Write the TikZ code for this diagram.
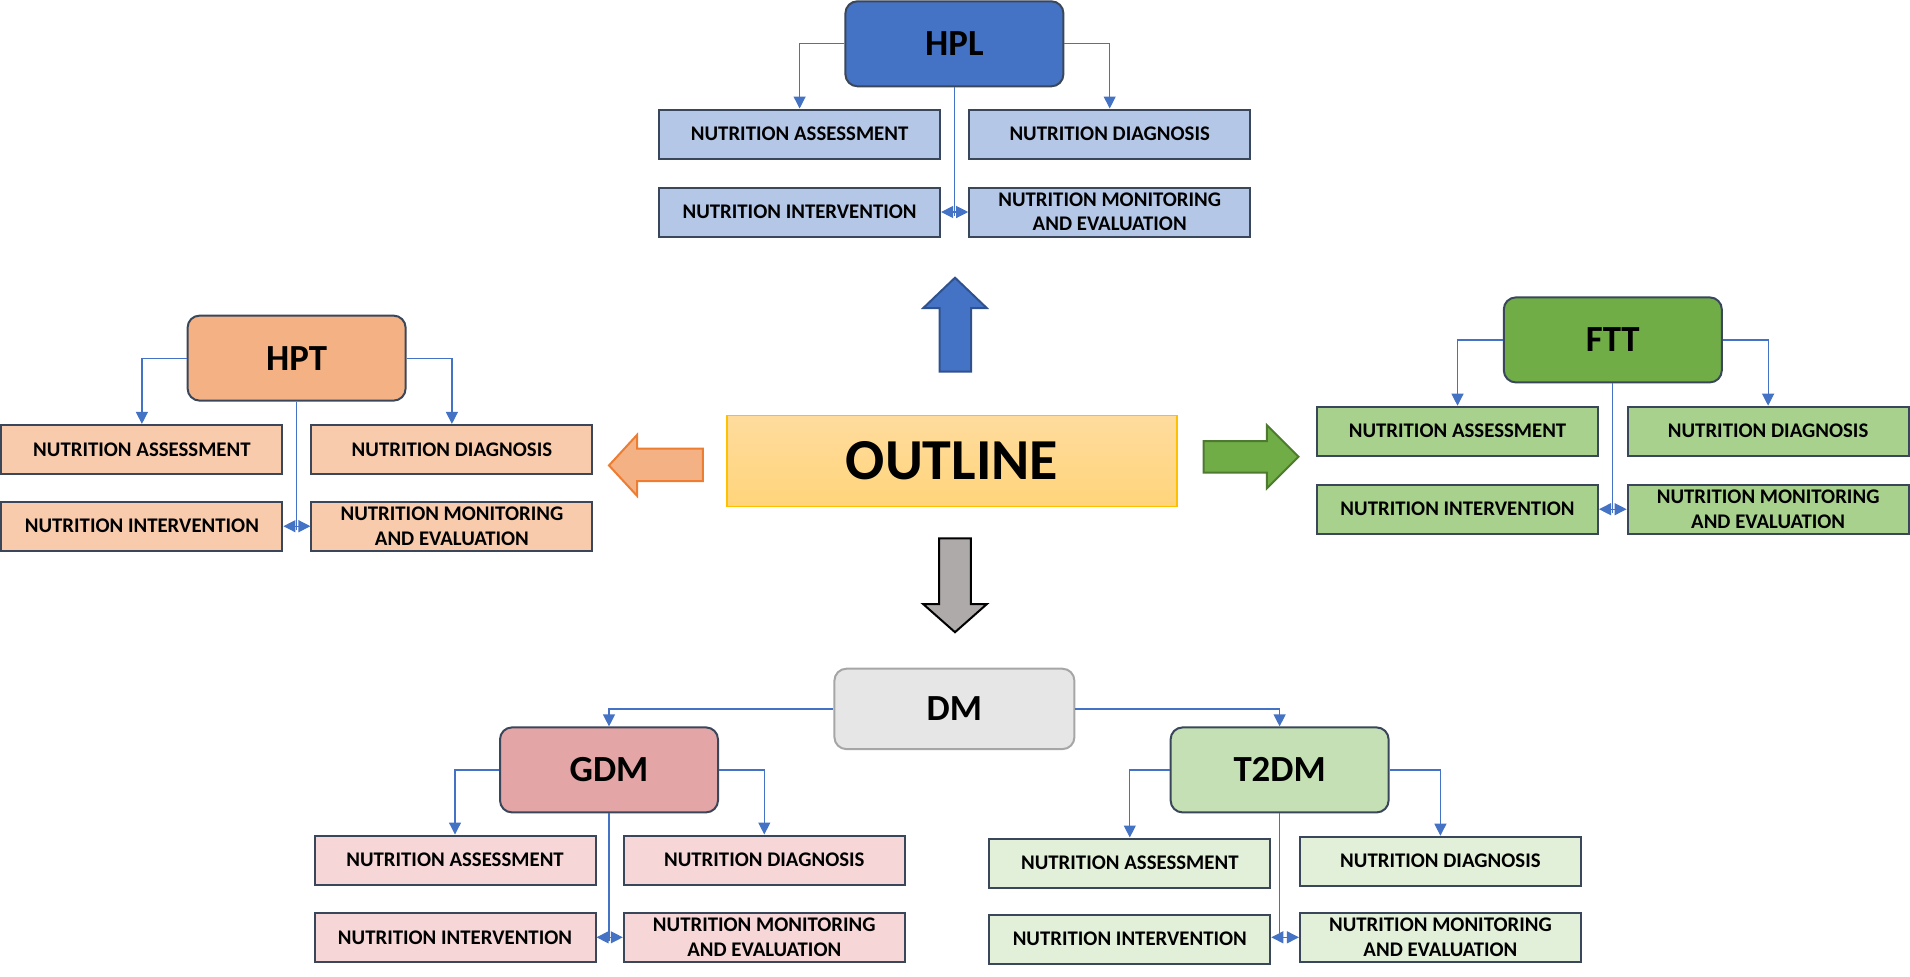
\documentclass[tikz,border=0pt]{standalone}
\usepackage{fontspec}
\setmainfont{Carlito}
\usetikzlibrary{arrows.meta}
\definecolor{bordc}{HTML}{3A475B}
\definecolor{connc}{HTML}{4472C4}
\definecolor{hplF}{HTML}{4472C4}
\definecolor{hplS}{HTML}{B4C7E7}
\definecolor{hptF}{HTML}{F4B183}
\definecolor{hptS}{HTML}{F8CBAD}
\definecolor{fttF}{HTML}{70AD47}
\definecolor{fttS}{HTML}{A9D18E}
\definecolor{gdmF}{HTML}{E3A5A5}
\definecolor{gdmS}{HTML}{F6D6D7}
\definecolor{t2dmF}{HTML}{C5E0B4}
\definecolor{t2dmS}{HTML}{E2F0D9}
\definecolor{dmF}{HTML}{E6E6E6}
\definecolor{dmB}{HTML}{A6A6A6}
\definecolor{outB}{HTML}{FFC000}
\definecolor{outT}{HTML}{FFDC9E}
\definecolor{outBot}{HTML}{FFD47A}
\definecolor{orB}{HTML}{ED7D31}
\definecolor{grB}{HTML}{4E7A30}
\definecolor{blB}{HTML}{2F528F}
\definecolor{gyF}{HTML}{AEAAAA}
\tikzset{
  headbox/.style={draw=bordc, line width=1pt, rounded corners=6pt, minimum width=109pt, minimum height=42.5pt, inner sep=0pt, font=\fontsize{18.4}{20}\selectfont\bfseries},
  subbox/.style={draw=bordc, line width=1pt, minimum width=140.5pt, minimum height=24.5pt, inner sep=0pt, align=center, font=\fontsize{10.4}{12.2}\selectfont\bfseries},
  conn/.style={draw=connc, line width=0.6pt, -{Triangle[length=6pt,width=6pt]}},
  connplain/.style={draw=connc, line width=0.6pt},
  blockarrow/.style={line width=1pt, line join=miter}
}
\begin{document}
\begin{tikzpicture}[x=0.5pt,y=-0.5pt]
\useasboundingbox (0,0) rectangle (1910,976);
% ---------- OUTLINE ----------
\node[draw=outB, line width=0.8pt, top color=outT, bottom color=outBot, minimum width=224.75pt, minimum height=45.6pt, inner sep=0pt, font=\fontsize{29}{32}\selectfont\bfseries] (outline) at (952,461) {OUTLINE};
% ---------- block arrows ----------
\draw[blockarrow, fill=hplF, draw=blB] (955,277.7) -- (986.7,308) -- (971,308) -- (971,371.5) -- (939.5,371.5) -- (939.5,308) -- (923.3,308) -- cycle;
\draw[blockarrow, fill=gyF, draw=black] (939.2,538.4) -- (970.8,538.4) -- (970.8,604.2) -- (986.7,604.2) -- (955,632.2) -- (923.3,604.2) -- (939.2,604.2) -- cycle;
\draw[blockarrow, fill=hptF, draw=orB] (609,465.4) -- (637,434.9) -- (637,448.6) -- (702.8,448.6) -- (702.8,481.2) -- (637,481.2) -- (637,495.8) -- cycle;
\draw[blockarrow, fill=fttF, draw=grB] (1298.5,456.7) -- (1266.8,425) -- (1266.8,441) -- (1203.5,441) -- (1203.5,472.6) -- (1266.8,472.6) -- (1266.8,488.4) -- cycle;
% ---------- HPL ----------
\node[headbox, fill=hplF] (hpl) at (954.4,43.8) {HPL};
\node[subbox, fill=hplS] (hplA) at (799.6,134) {NUTRITION ASSESSMENT};
\node[subbox, fill=hplS] (hplD) at (1109.7,134) {NUTRITION DIAGNOSIS};
\node[subbox, fill=hplS] (hplI) at (799.6,212) {NUTRITION INTERVENTION};
\node[subbox, fill=hplS] (hplM) at (1109.7,212) {NUTRITION MONITORING\\AND EVALUATION};
\draw[conn] (hpl.west) -| (hplA.north);
\draw[conn] (hpl.east) -| (hplD.north);
\coordinate (hplc) at (hpl.south |- hplI.east);
\draw[connplain] (hpl.south) -- ([yshift=-2pt]hplc);
\draw[conn] (hplc) -- (hplI.east);
\draw[conn] (hplc) -- (hplM.west);
% ---------- HPT ----------
\node[headbox, fill=hptF] (hpt) at (296.6,358.1) {HPT};
\node[subbox, fill=hptS] (hptA) at (141.9,449.4) {NUTRITION ASSESSMENT};
\node[subbox, fill=hptS] (hptD) at (451.9,449.4) {NUTRITION DIAGNOSIS};
\node[subbox, fill=hptS] (hptI) at (141.9,526.2) {NUTRITION INTERVENTION};
\node[subbox, fill=hptS] (hptM) at (451.9,526.2) {NUTRITION MONITORING\\AND EVALUATION};
\draw[conn] (hpt.west) -| (hptA.north);
\draw[conn] (hpt.east) -| (hptD.north);
\coordinate (hptc) at (hpt.south |- hptI.east);
\draw[connplain] (hpt.south) -- ([yshift=-2pt]hptc);
\draw[conn] (hptc) -- (hptI.east);
\draw[conn] (hptc) -- (hptM.west);
% ---------- FTT ----------
\node[headbox, fill=fttF] (ftt) at (1612.8,339.9) {FTT};
\node[subbox, fill=fttS] (fttA) at (1457.5,431.2) {NUTRITION ASSESSMENT};
\node[subbox, fill=fttS] (fttD) at (1768.1,431.2) {NUTRITION DIAGNOSIS};
\node[subbox, fill=fttS] (fttI) at (1457.5,509.2) {NUTRITION INTERVENTION};
\node[subbox, fill=fttS] (fttM) at (1768.1,509.2) {NUTRITION MONITORING\\AND EVALUATION};
\draw[conn] (ftt.west) -| (fttA.north);
\draw[conn] (ftt.east) -| (fttD.north);
\coordinate (fttc) at (ftt.south |- fttI.east);
\draw[connplain] (ftt.south) -- ([yshift=-2pt]fttc);
\draw[conn] (fttc) -- (fttI.east);
\draw[conn] (fttc) -- (fttM.west);
% ---------- DM ----------
\node[draw=dmB, line width=1pt, fill=dmF, rounded corners=6pt, minimum width=120pt, minimum height=40.2pt, inner sep=0pt, font=\fontsize{18.4}{20}\selectfont\bfseries] (dm) at (954.4,708.9) {DM};
% ---------- GDM ----------
\node[headbox, fill=gdmF] (gdm) at (609,769.9) {GDM};
\node[subbox, fill=gdmS] (gdmA) at (455,860) {NUTRITION ASSESSMENT};
\node[subbox, fill=gdmS] (gdmD) at (764.3,860) {NUTRITION DIAGNOSIS};
\node[subbox, fill=gdmS] (gdmI) at (455,937.3) {NUTRITION INTERVENTION};
\node[subbox, fill=gdmS] (gdmM) at (764.3,937.3) {NUTRITION MONITORING\\AND EVALUATION};
\draw[conn] (gdm.west) -| (gdmA.north);
\draw[conn] (gdm.east) -| (gdmD.north);
\coordinate (gdmc) at (gdm.south |- gdmI.east);
\draw[connplain] (gdm.south) -- ([yshift=-2pt]gdmc);
\draw[conn] (gdmc) -- (gdmI.east);
\draw[conn] (gdmc) -- (gdmM.west);
% ---------- T2DM ----------
\node[headbox, fill=t2dmF] (t2dm) at (1279.6,769.9) {T2DM};
\node[subbox, fill=t2dmS] (t2dmA) at (1129.8,863) {NUTRITION ASSESSMENT};
\node[subbox, fill=t2dmS] (t2dmD) at (1440.4,861.2) {NUTRITION DIAGNOSIS};
\node[subbox, fill=t2dmS] (t2dmI) at (1129.8,939.2) {NUTRITION INTERVENTION};
\node[subbox, fill=t2dmS] (t2dmM) at (1440.4,937.3) {NUTRITION MONITORING\\AND EVALUATION};
\draw[conn] (t2dm.west) -| (t2dmA.north);
\draw[conn] (t2dm.east) -| (t2dmD.north);
\coordinate (t2dmc) at (t2dm.south |- t2dmM.west);
\draw[connplain] (t2dm.south) -- (t2dmc);
\draw[conn] (t2dmc) -- (t2dmc -| t2dmI.east);
\draw[conn] (t2dmc) -- (t2dmM.west);
% ---------- DM branches ----------
\draw[conn] (dm.west) -| (gdm.north);
\draw[conn] (dm.east) -| (t2dm.north);
\end{tikzpicture}
\end{document}
